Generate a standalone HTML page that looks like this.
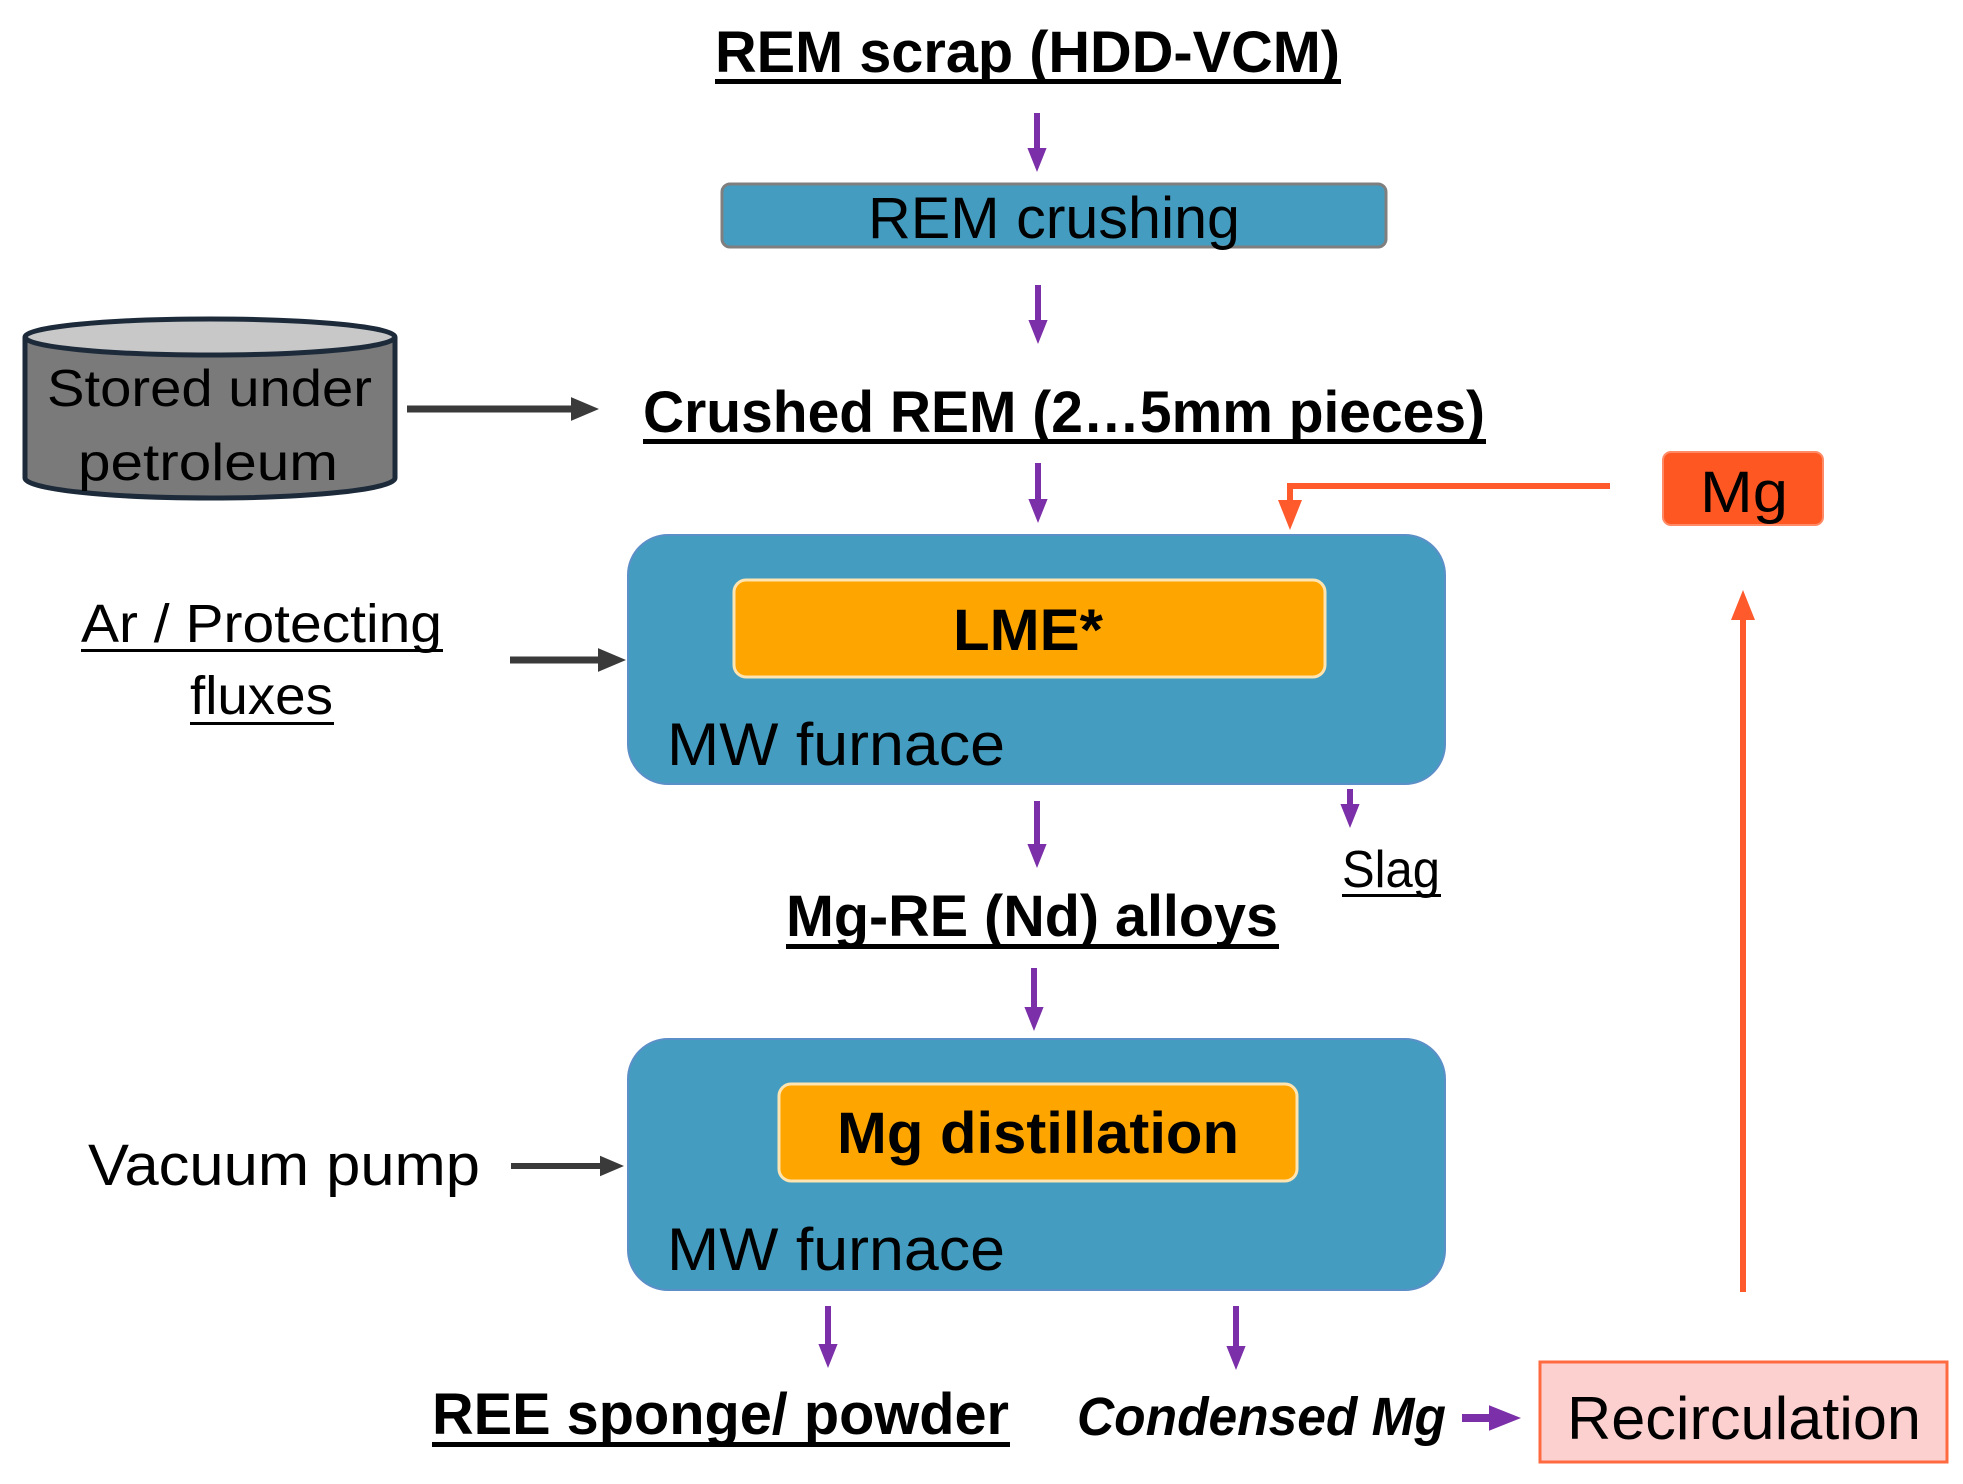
<!DOCTYPE html>
<html><head><meta charset="utf-8"><style>html,body{margin:0;padding:0;background:#fff}svg{display:block}</style></head>
<body>
<svg width="1963" height="1484" viewBox="0 0 1963 1484" xmlns="http://www.w3.org/2000/svg" font-family="Liberation Sans, sans-serif">
<defs>
<marker id="pu" markerWidth="4" markerHeight="4" refX="2" refY="2" orient="auto" markerUnits="strokeWidth"><path d="M0,0.4 L4,2 L0,3.6 z" fill="#7b2fa8"/></marker>
<marker id="bk" markerWidth="4" markerHeight="4" refX="2" refY="2" orient="auto" markerUnits="strokeWidth"><path d="M0,0.3 L4,2 L0,3.7 z" fill="#3a3a3a"/></marker>
<marker id="or" markerWidth="5" markerHeight="5" refX="2.5" refY="2.5" orient="auto" markerUnits="strokeWidth"><path d="M0,0.5 L5,2.5 L0,4.5 z" fill="#ff5a2c"/></marker>
</defs>
<g fill="#000">
<!-- title -->
<text x="715" y="72" font-size="58" font-weight="bold" textLength="625" lengthAdjust="spacingAndGlyphs">REM scrap (HDD-VCM)</text>
<rect x="715" y="79" width="626" height="5"/>
</g>
<g stroke="#7b2fa8" stroke-width="6" fill="none">
<line x1="1037" y1="113" x2="1037" y2="160" marker-end="url(#pu)"/>
<line x1="1038" y1="285" x2="1038" y2="332" marker-end="url(#pu)"/>
<line x1="1038" y1="463" x2="1038" y2="511" marker-end="url(#pu)"/>
<line x1="1037" y1="801" x2="1037" y2="856" marker-end="url(#pu)"/>
<line x1="1350" y1="789" x2="1350" y2="816" marker-end="url(#pu)"/>
<line x1="1034" y1="968" x2="1034" y2="1019" marker-end="url(#pu)"/>
<line x1="828" y1="1306" x2="828" y2="1356" marker-end="url(#pu)"/>
<line x1="1236" y1="1306" x2="1236" y2="1358" marker-end="url(#pu)"/>
<line x1="1462" y1="1418" x2="1505" y2="1418" stroke-width="8" marker-end="url(#pu)"/>
</g>
<!-- REM crushing -->
<rect x="722" y="184" width="664" height="63" rx="8" fill="#449dc1" stroke="#7f7f7f" stroke-width="3"/>
<text x="868" y="238" font-size="58" textLength="372" lengthAdjust="spacingAndGlyphs">REM crushing</text>
<!-- cylinder -->
<path d="M25,337 L25,478 A185,20 0 0 0 395,478 L395,337" fill="#7a7a7a" stroke="#1c2a3a" stroke-width="5"/>
<ellipse cx="210" cy="337" rx="185" ry="18" fill="#c8c8c8" stroke="#1c2a3a" stroke-width="5"/>
<text x="47" y="406" font-size="52" textLength="325" lengthAdjust="spacingAndGlyphs">Stored under</text>
<text x="78" y="480" font-size="52" textLength="260" lengthAdjust="spacingAndGlyphs">petroleum</text>
<g stroke="#3a3a3a" stroke-width="7" fill="none">
<line x1="407" y1="409" x2="585" y2="409" marker-end="url(#bk)"/>
<line x1="510" y1="660" x2="612" y2="660" marker-end="url(#bk)"/>
<line x1="511" y1="1166" x2="612" y2="1166" stroke-width="6" marker-end="url(#bk)"/>
</g>
<text x="643" y="432" font-size="58" font-weight="bold" textLength="842" lengthAdjust="spacingAndGlyphs">Crushed REM (2…5mm pieces)</text>
<rect x="643" y="439" width="843" height="5"/>
<!-- Mg -->
<rect x="1663" y="452" width="160" height="73" rx="8" fill="#ff5722" stroke="#ff8a65" stroke-width="2"/>
<text x="1700" y="512" font-size="58" textLength="88" lengthAdjust="spacingAndGlyphs">Mg</text>
<g stroke="#ff5a2c" stroke-width="6" fill="none">
<polyline points="1610,486 1290,486 1290,515" marker-end="url(#or)"/>
<line x1="1743" y1="1292" x2="1743" y2="605" marker-end="url(#or)"/>
</g>
<!-- furnace 1 -->
<rect x="628" y="535" width="817" height="249" rx="40" fill="#449dc1" stroke="#5b8fc7" stroke-width="2"/>
<rect x="734" y="580" width="591" height="97" rx="12" fill="#ffa500" stroke="#fde4b0" stroke-width="3"/>
<text x="953" y="650" font-size="58" font-weight="bold" textLength="150" lengthAdjust="spacingAndGlyphs">LME*</text>
<text x="667" y="765" font-size="60" textLength="338" lengthAdjust="spacingAndGlyphs">MW furnace</text>
<text x="81" y="642" font-size="54" textLength="361" lengthAdjust="spacingAndGlyphs">Ar / Protecting</text>
<rect x="81" y="649" width="362" height="3"/>
<text x="190" y="714" font-size="54" textLength="143" lengthAdjust="spacingAndGlyphs">fluxes</text>
<rect x="190" y="722" width="144" height="3"/>
<text x="1342" y="887" font-size="52" textLength="98" lengthAdjust="spacingAndGlyphs">Slag</text>
<rect x="1342" y="894" width="99" height="3"/>
<text x="786" y="936" font-size="58" font-weight="bold" textLength="492" lengthAdjust="spacingAndGlyphs">Mg-RE (Nd) alloys</text>
<rect x="786" y="944" width="493" height="5"/>
<!-- furnace 2 -->
<rect x="628" y="1039" width="817" height="251" rx="40" fill="#449dc1" stroke="#5b8fc7" stroke-width="2"/>
<rect x="779" y="1084" width="518" height="97" rx="12" fill="#ffa500" stroke="#fde4b0" stroke-width="3"/>
<text x="837" y="1153" font-size="58" font-weight="bold" textLength="402" lengthAdjust="spacingAndGlyphs">Mg distillation</text>
<text x="667" y="1270" font-size="60" textLength="338" lengthAdjust="spacingAndGlyphs">MW furnace</text>
<text x="88" y="1185" font-size="58" textLength="392" lengthAdjust="spacingAndGlyphs">Vacuum pump</text>
<text x="432" y="1434" font-size="58" font-weight="bold" textLength="577" lengthAdjust="spacingAndGlyphs">REE sponge/ powder</text>
<rect x="432" y="1442" width="578" height="5"/>
<text x="1077" y="1435" font-size="54" font-weight="bold" font-style="italic" textLength="369" lengthAdjust="spacingAndGlyphs">Condensed Mg</text>
<rect x="1540" y="1362" width="407" height="100" fill="#fdd0d0" stroke="#ff6a40" stroke-width="3"/>
<text x="1567" y="1439" font-size="60" textLength="354" lengthAdjust="spacingAndGlyphs">Recirculation</text>
</svg>
</body></html>
